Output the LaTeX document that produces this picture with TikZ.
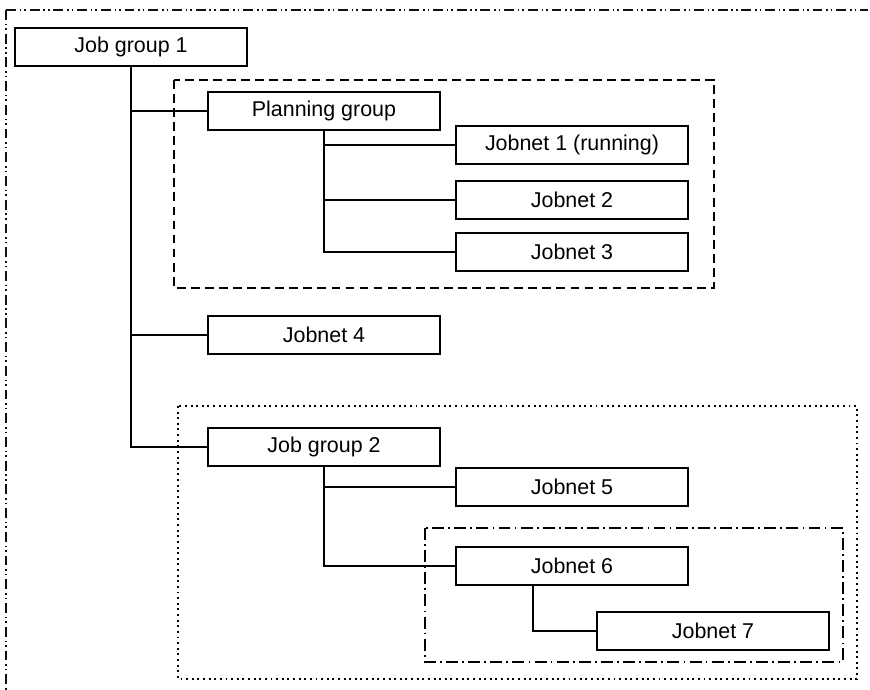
\documentclass[tikz,border=0pt]{standalone}
\usepackage{fontspec}
\setmainfont{Liberation Sans}
\usepackage{tikz}
\definecolor{ink}{HTML}{111111}
\tikzset{
  every node/.style={font=\fontsize{12.2}{14}\selectfont,inner sep=0pt},
  box/.style={draw=black,line width=1.1pt,fill=white,minimum width=4.64cm,minimum height=.76cm},
  link/.style={draw=black,line width=.95pt},
  outerframe/.style={draw=ink,line width=1pt,dash pattern=on 5.6pt off 2.2pt on .9pt off 1.7pt on .9pt off 2.2pt},
  plangroup/.style={line width=.9pt,dash pattern=on 5pt off 3pt},
  subgroup/.style={line width=.8pt,dash pattern=on 1.1pt off 2.1pt},
  nestframe/.style={line width=.9pt,dash pattern=on 6.8pt off 2.4pt on 1pt off 2.4pt},
}
\begin{document}
\begin{tikzpicture}[x=1cm,y=1cm]
\path[use as bounding box] (0,0) rectangle (17.4,13.8);
% Frames first, so the boxes sit on top of them.
\draw[outerframe] (.12,13.6) -- (17.35,13.6);
\draw[outerframe] (.12,13.6) -- (.12,0);
\draw[plangroup] (3.48,12.20) rectangle (14.28,8.04);
\draw[subgroup] (3.56,5.68) rectangle (17.14,.22);
\draw[nestframe] (8.50,3.24) rectangle (16.86,.56);
% Tree nodes.
\node[box] (jg1) at (2.62,12.86) {Job group 1};
\node[box] (pg) at (6.48,11.58) {Planning group};
\node[box] (jn1) at (11.44,10.90) {Jobnet 1 (running)};
\node[box] (jn2) at (11.44,9.80) {Jobnet 2};
\node[box] (jn3) at (11.44,8.76) {Jobnet 3};
\node[box] (jn4) at (6.48,7.10) {Jobnet 4};
\node[box] (jg2) at (6.48,4.86) {Job group 2};
\node[box] (jn5) at (11.44,4.06) {Jobnet 5};
\node[box] (jn6) at (11.44,2.48) {Jobnet 6};
\node[box] (jn7) at (14.26,1.18) {Jobnet 7};
% Elbow connectors from each parent to its children.
\foreach \p/\c in {jg1/pg,jg1/jn4,jg1/jg2,pg/jn1,pg/jn2,pg/jn3,jg2/jn5,jg2/jn6}
  \draw[link] (\p.south) |- (\c.west);
\draw[link] ([xshift=-.78cm]jn6.south) |- (jn7.west);
\end{tikzpicture}
\end{document}
